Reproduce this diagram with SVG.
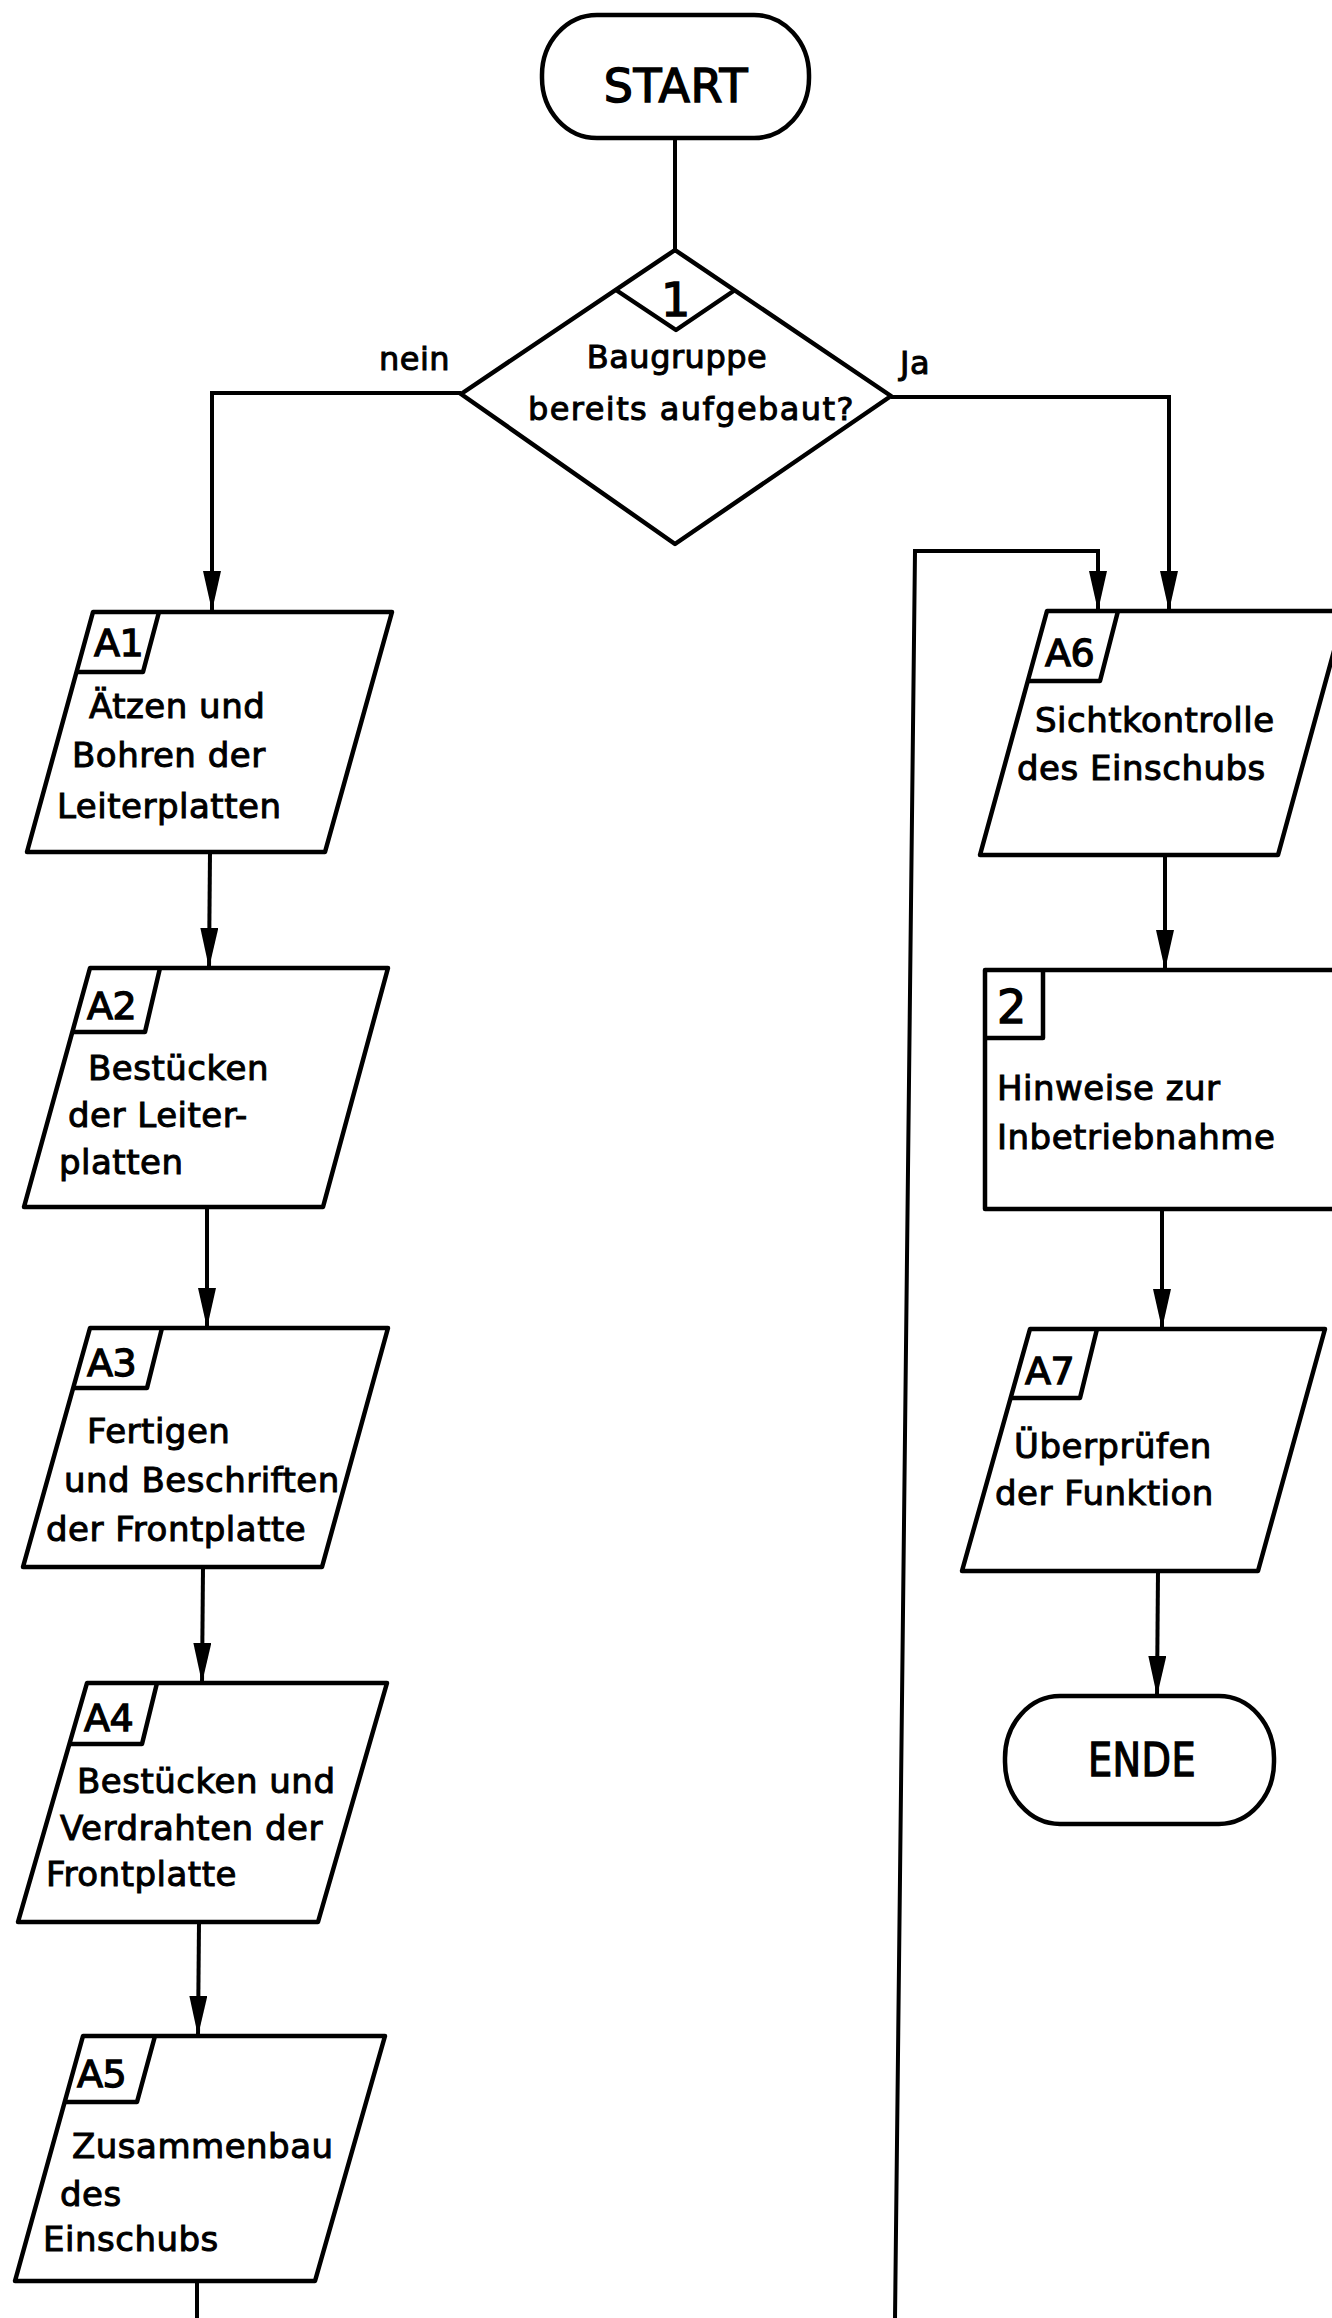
<svg xmlns="http://www.w3.org/2000/svg" width="1332" height="2318" viewBox="0 0 1332 2318">
<defs>
<marker id="arr" viewBox="0 0 40 18" refX="40" refY="9" markerWidth="40" markerHeight="18" markerUnits="userSpaceOnUse" orient="auto">
<path d="M0,0 L40,9 L0,18 Z" fill="#000"/>
</marker>
<style>
.s{fill:#fff;stroke:#000;stroke-width:4.5;stroke-linejoin:round}
.l{fill:none;stroke:#000;stroke-width:4.5;stroke-linejoin:round}
.c{fill:none;stroke:#000;stroke-width:4}
text{font-family:'DejaVu Sans','Liberation Sans',sans-serif;fill:#000;stroke:#000;stroke-width:1;letter-spacing:0.5px}
.b{font-size:34px}
.lb{font-size:38px;stroke-width:1.3;letter-spacing:-0.5px}
.big{font-size:46px;stroke-width:1.4}
.d{font-size:32px}
</style>
</defs>
<rect width="1332" height="2318" fill="#fff"/>

<g id="connectors">
<path class="c" d="M675,138 L675,250"/>
<path class="c" d="M461,393 L212,393 L212,611" marker-end="url(#arr)"/>
<path class="c" d="M891,397 L1169,397 L1169,611" marker-end="url(#arr)"/>
<path class="c" d="M210,852 L209,968" marker-end="url(#arr)"/>
<path class="c" d="M207,1207 L207,1328" marker-end="url(#arr)"/>
<path class="c" d="M203,1567 L202,1683" marker-end="url(#arr)"/>
<path class="c" d="M199,1922 L198,2036" marker-end="url(#arr)"/>
<path class="c" d="M197,2281 L197,2320"/>
<path class="c" d="M895,2320 L915,551 L1098,551 L1098,611" marker-end="url(#arr)"/>
<path class="c" d="M1165,855 L1165,970" marker-end="url(#arr)"/>
<path class="c" d="M1162,1209 L1162,1329" marker-end="url(#arr)"/>
<path class="c" d="M1158,1571 L1157,1696" marker-end="url(#arr)"/>
</g>

<g id="labels">
<text class="d" x="379" y="370">nein</text>
<text class="d" x="900" y="374">Ja</text>
</g>

<g id="start">
<rect class="s" x="542" y="15" width="267" height="123" rx="55" ry="60"/>
<text class="big" x="676" y="102" text-anchor="middle">START</text>
</g>

<g id="decision1">
<polygon class="s" points="675,250 891,396 675,544 461,394"/>
<polyline class="l" points="616,290 676,330 735,290"/>
<text class="big" x="676" y="316" text-anchor="middle">1</text>
<text class="d" x="677" y="368" text-anchor="middle">Baugruppe</text>
<text class="d" x="528" y="420" textLength="326" lengthAdjust="spacing">bereits aufgebaut?</text>
</g>

<g id="A1">
<polygon class="s" points="93,612 392,612 325,852 27,852"/>
<polyline class="l" points="159,612 143,672 77,672"/>
<text class="lb" x="94" y="656">A1</text>
<text class="b" x="89" y="718">Ätzen und</text>
<text class="b" x="72" y="767">Bohren der</text>
<text class="b" x="57" y="818">Leiterplatten</text>
</g>

<g id="A2">
<polygon class="s" points="90,968 388,968 323,1207 24,1207"/>
<polyline class="l" points="160,968 145,1032 73,1032"/>
<text class="lb" x="87" y="1019">A2</text>
<text class="b" x="88" y="1080">Bestücken</text>
<text class="b" x="68" y="1127">der Leiter-</text>
<text class="b" x="59" y="1174">platten</text>
</g>

<g id="A3">
<polygon class="s" points="90,1328 388,1328 322,1567 23,1567"/>
<polyline class="l" points="162,1328 147,1388 74,1388"/>
<text class="lb" x="87" y="1376">A3</text>
<text class="b" x="87" y="1443">Fertigen</text>
<text class="b" x="64" y="1492">und Beschriften</text>
<text class="b" x="46" y="1541">der Frontplatte</text>
</g>

<g id="A4">
<polygon class="s" points="87,1683 387,1683 318,1922 18,1922"/>
<polyline class="l" points="157,1683 142,1744 70,1744"/>
<text class="lb" x="84" y="1731">A4</text>
<text class="b" x="77" y="1793">Bestücken und</text>
<text class="b" x="60" y="1840">Verdrahten der</text>
<text class="b" x="46" y="1886">Frontplatte</text>
</g>

<g id="A5">
<polygon class="s" points="83,2036 385,2036 315,2281 15,2281"/>
<polyline class="l" points="155,2036 137,2102 65,2102"/>
<text class="lb" x="77" y="2087">A5</text>
<text class="b" x="72" y="2158">Zusammenbau</text>
<text class="b" x="60" y="2206">des</text>
<text class="b" x="43" y="2251">Einschubs</text>
</g>

<g id="A6">
<polygon class="s" points="1047,611 1345,611 1278,855 980,855"/>
<polyline class="l" points="1118,611 1100,681 1028,681"/>
<text class="lb" x="1045" y="666">A6</text>
<text class="b" x="1035" y="732">Sichtkontrolle</text>
<text class="b" x="1017" y="780">des Einschubs</text>
</g>

<g id="B2">
<rect class="s" x="985" y="970" width="360" height="239"/>
<polyline class="l" points="1043,970 1043,1038 985,1038"/>
<text class="big" x="997" y="1023">2</text>
<text class="b" x="997" y="1100">Hinweise zur</text>
<text class="b" x="997" y="1149">Inbetriebnahme</text>
</g>

<g id="A7">
<polygon class="s" points="1030,1329 1325,1329 1258,1571 962,1571"/>
<polyline class="l" points="1097,1329 1080,1398 1011,1398"/>
<text class="lb" x="1025" y="1384">A7</text>
<text class="b" x="1014" y="1458">Überprüfen</text>
<text class="b" x="995" y="1505">der Funktion</text>
</g>

<g id="ende">
<rect class="s" x="1005" y="1696" width="269" height="128" rx="55" ry="62"/>
<text class="big" x="1142" y="1776" text-anchor="middle" textLength="108" lengthAdjust="spacingAndGlyphs">ENDE</text>
</g>
</svg>
